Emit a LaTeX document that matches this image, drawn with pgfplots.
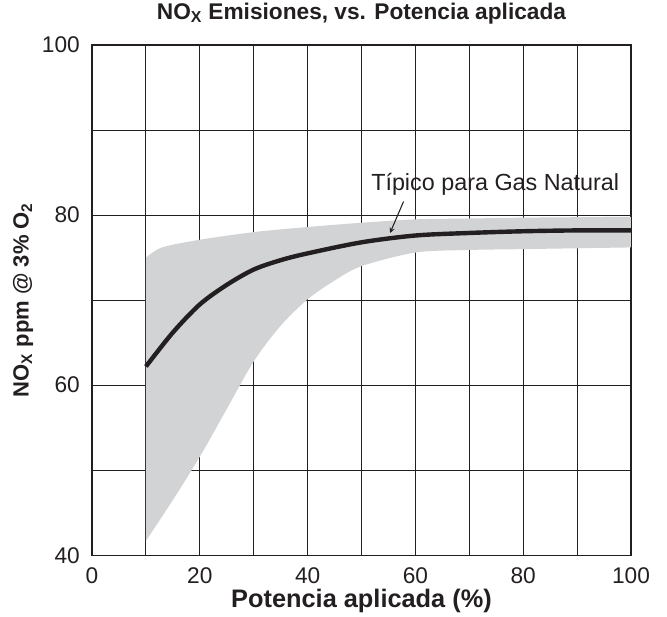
\documentclass[border=0pt]{standalone}
\usepackage{pgfplots}
\pgfplotsset{compat=1.18}
\usepgfplotslibrary{fillbetween}
\usepackage{fontspec}
\setmainfont{Liberation Sans}
\definecolor{bandgray}{HTML}{D1D3D4}
\definecolor{ink}{HTML}{231F20}
\begin{document}
\begin{tikzpicture}
\begin{axis}[
  scale only axis,
  width=404pt, height=382.5pt,
  xmin=0, xmax=100, ymin=40, ymax=100,
  xtick={0,20,...,100}, ytick={40,60,80,100},
  minor xtick={10,30,50,70,90}, minor ytick={50,70,90},
  grid=both,
  major grid style={ink, line width=0.8pt},
  minor grid style={ink, line width=0.8pt},
  axis line style={ink, line width=0.9pt},
  major tick length=0pt, minor tick length=0pt,
  tick style={draw=none},
  /pgf/number format/assume math mode=true,
  ticklabel style={font=\fontsize{17}{19}\selectfont, text=ink},
  xticklabel style={anchor=base, yshift=-21pt},
  yticklabel style={anchor=east, inner sep=0pt, xshift=-9pt},
  title={\textbf{NO\textsubscript{X} Emisiones, vs. Potencia aplicada}},
  title style={font=\fontsize{17}{19}\selectfont, text=ink, at={(axis description cs:0.5,1)}, anchor=base, yshift=13.5pt},
  xlabel={\textbf{Potencia aplicada (\%)}},
  ylabel={\textbf{NO\textsubscript{X} ppm @ 3\% O\textsubscript{2}}},
  xlabel style={font=\fontsize{19}{21}\selectfont, text=ink, at={(axis description cs:0.5,0)}, anchor=base, yshift=-39pt, inner sep=0pt},
  ylabel style={font=\fontsize{16.5}{18}\selectfont, text=ink, at={(axis description cs:-0.128,0.5)}, anchor=center, inner sep=0pt},
  set layers,
]
\addplot[name path=upper, draw=none, smooth, forget plot] coordinates {
  (10,75.0) (13,76.2) (20,77.1) (30,78.0) (40,78.6) (50,79.1) (60,79.5) (70,79.6) (80,79.7) (100,79.8)};
\addplot[name path=lower, draw=none, smooth, forget plot] coordinates {
  (10,41.7) (15,46.5) (20,51.6) (25,57.2) (30,62.8) (35,67.0) (40,70.1) (45,72.3) (50,74.0) (60,75.6) (70,75.9) (80,76.0) (100,76.2)};
\addplot[bandgray, draw=none, forget plot, on layer=axis background] fill between[of=upper and lower];
\addplot[ink, line width=3.3pt, smooth] coordinates {
  (10,62.2) (15,66.2) (20,69.5) (25,71.8) (30,73.6) (35,74.7) (40,75.5) (50,76.8) (60,77.6) (70,77.9) (80,78.1) (90,78.2) (100,78.2)};
\node[font=\fontsize{17.5}{19}\selectfont, text=ink] at (axis cs:74.8,83.65) {Típico para Gas Natural};
\draw[ink, -stealth, line width=0.8pt] (axis cs:57.8,81.6) -- (axis cs:55.3,77.9);
\end{axis}
\pgfresetboundingbox
\path[use as bounding box] ([xshift=-69pt,yshift=-45.75pt]current axis.south west) rectangle ([xshift=27pt,yshift=33.75pt]current axis.north east);
\end{tikzpicture}
\end{document}
